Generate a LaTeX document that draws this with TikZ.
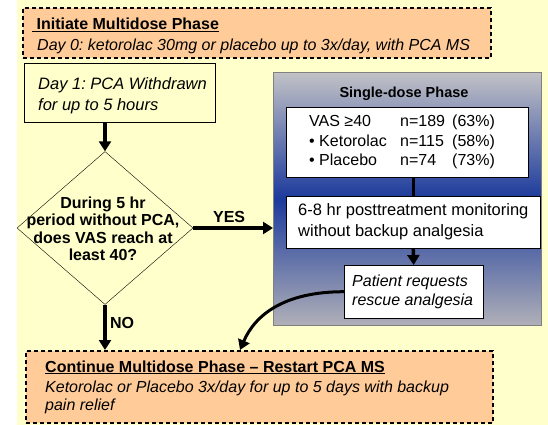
\documentclass[tikz,border=0pt]{standalone}
\usepackage{fontspec}
\setmainfont{Liberation Sans}
\usetikzlibrary{shapes.geometric, arrows.meta}
\definecolor{paleyellow}{HTML}{FFFFCC}
\definecolor{peach}{HTML}{FFCC99}
\definecolor{phaseblue}{HTML}{1C3A9C}
\definecolor{phasegray}{HTML}{C2C2C6}
\definecolor{phaselow}{HTML}{B0B0B8}
\tikzset{every node/.append style={font=\fontsize{16}{17.5}\selectfont}}
\frenchspacing

\begin{document}
\begin{tikzpicture}[x=1pt, y=-1pt, >={Triangle[length=10pt, width=12pt]},
    phasebox/.style={draw, line width=2pt, dash pattern=on 4pt off 3pt, fill=peach, anchor=north west},
    stepbox/.style={draw, anchor=north west},
    boxtext/.style={anchor=west, align=left, inner sep=0pt},
    flow/.style={->, line width=3.5pt}]
    \useasboundingbox (0,0) rectangle (548,425);
    \fill[paleyellow] (17,0) rectangle (548,425);
    % multidose phase, day 0
    \node[phasebox, minimum width=468pt, minimum height=50pt] (init) at (22,7) {};
    \node[boxtext] (inittext) at ([xshift=15pt, yshift=-3pt]init.west)
        {\hspace{-5pt}\underline{\textbf{\ Initiate Multidose Phase}}\\[3pt]\textit{Day 0: ketorolac 30mg or placebo up to 3x/day, with PCA MS}};
    \node[stepbox, fill=paleyellow, minimum width=191pt, minimum height=59pt] (d1) at (24,63) {};
    \node[boxtext, font=\fontsize{16.5}{21}\selectfont\itshape] (d1text) at ([xshift=14pt, yshift=-3pt]d1.west)
        {Day 1: PCA Withdrawn\\for up to 5 hours};
    % decision
    \node[diamond, draw, fill=paleyellow, minimum width=176pt, minimum height=153pt, inner sep=0pt] (q) at (105,228) {};
    \node[align=center, font=\fontsize{16}{17.5}\selectfont\bfseries] (qtext) at (103,229)
        {During 5 hr\\period without PCA,\\does VAS reach at\\least 40?};
    % single-dose phase
    \node[draw=gray, anchor=north west, minimum width=268pt, minimum height=253pt,
        top color=phasegray, bottom color=phaselow, middle color=phaseblue] (sd) at (273,72) {};
    \node[font=\fontsize{14.5}{17}\selectfont\bfseries] (sdtitle) at (404,94) {Single-dose Phase};
    \node[stepbox, fill=white, minimum width=242pt, minimum height=70pt] (vas) at (286,107) {};
    \node[boxtext, font=\fontsize{16}{19.5}\selectfont] (vastext) at ([xshift=23pt]vas.west)
        {\makebox[91pt][l]{VAS ≥40}\makebox[52pt][l]{n=189}(63\%)\\
         \makebox[91pt][l]{• Ketorolac}\makebox[52pt][l]{n=115}(58\%)\\
         \makebox[91pt][l]{• Placebo}\makebox[52pt][l]{n=74}(73\%)};
    \node[stepbox, fill=white, minimum width=254pt, minimum height=52pt] (mon) at (286,196) {};
    \node[boxtext, font=\fontsize{16.5}{21}\selectfont] (montext) at ([xshift=12pt]mon.west)
        {6-8 hr posttreatment monitoring\\without backup analgesia};
    \node[stepbox, fill=white, minimum width=139pt, minimum height=53pt] (pat) at (344,265) {};
    \node[boxtext, font=\fontsize{16}{19}\selectfont\itshape] (pattext) at ([xshift=8pt]pat.west)
        {Patient requests\\rescue analgesia};
    % back to multidose phase
    \node[phasebox, minimum width=467pt, minimum height=72pt] (bot) at (25,350) {};
    \node[boxtext] (bottext) at ([xshift=20pt]bot.west)
        {\underline{\textbf{Continue Multidose Phase \textendash{} Restart PCA MS}}\\[3pt]
         \textit{Ketorolac or Placebo 3x/day for up to 5 days with backup}\\\textit{pain relief}};
    % connectors
    \draw[flow] (q.north |- d1.south) -- (q.north);
    \draw[flow] (q.east) -- (q.east -| sd.west) node[pos=0.45, above, font=\fontsize{16}{17.5}\selectfont\bfseries] (yes) {YES};
    \draw[flow] (q.south) -- (q.south |- bot.north) node[pos=0.4, right, font=\fontsize{16}{17.5}\selectfont\bfseries] (no) {NO};
    \draw[line width=3pt] (mon.north |- vas.south) -- (mon.north);
    \draw[flow] (mon.south) -- (pat.north);
    \coordinate (backin) at (240,350);
    \draw[flow, line width=3pt] (pat.west) .. controls +(-60,0) and +(15,-35) .. (backin);
\end{tikzpicture}
\end{document}
